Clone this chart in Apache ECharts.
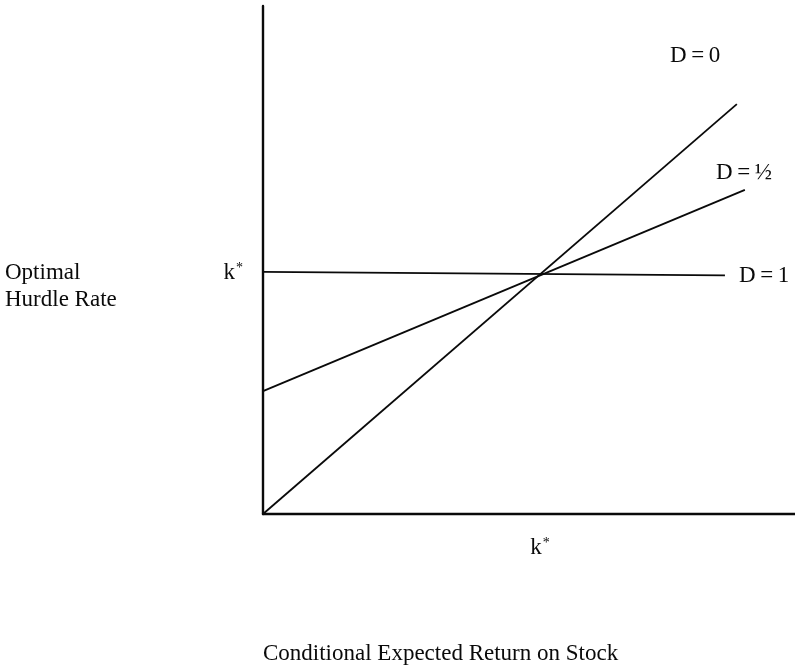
<!DOCTYPE html>
<html>
<head>
<meta charset="utf-8">
<script src="https://cdn.jsdelivr.net/npm/echarts@6/dist/echarts.min.js"></script>
<style>
html,body{margin:0;padding:0;background:#fff;}
#c{width:795px;height:669px;}
</style>
</head>
<body>
<div id="c"></div>
<script>
// Data (x: conditional expected return, y: optimal hurdle rate; k* = 1)
const seriesNames = ['D\u2009=\u20090', 'D\u2009=\u2009\u00BD', 'D\u2009=\u20091'];
const lineD0 = [[0, 0], [1.711, 1.701]];
const lineDHalf = [[0, 0.51], [1.74, 1.345]];
const lineD1 = [[0, 1.005], [1.668, 0.99]];
const kStarValue = 1;
const xMax = 1.921;
const yMax = 2.108;

const FONT = "'Liberation Serif','Times New Roman',serif";
const INK = '#0a0a0a';

const chart = echarts.init(document.getElementById('c'), null, {renderer: 'canvas'});

function kLabel(v) {
  return Math.abs(v - kStarValue) < 1e-9 ? '{k|k}{s|*}' : '';
}
const rich = {
  k: {fontSize: 23, fontFamily: FONT, color: INK},
  s: {fontSize: 14, fontFamily: FONT, color: INK, verticalAlign: 'top', padding: [0, 0, 0, 1]}
};

function seriesOf(name, data) {
  return {
    name: name, type: 'line', data: data, symbol: 'none', silent: true,
    lineStyle: {color: INK, width: 1.8}, animation: false
  };
}

chart.setOption({
  backgroundColor: '#fff',
  animation: false,
  grid: {left: 263, right: 0, top: 6, bottom: 155, containLabel: false},
  xAxis: {
    type: 'value', min: 0, max: xMax, interval: 1,
    axisLine: {show: true, onZero: false, lineStyle: {color: INK, width: 2.4}},
    axisTick: {show: false}, splitLine: {show: false},
    axisLabel: {margin: 22, formatter: kLabel, rich: rich, showMaxLabel: false}
  },
  yAxis: {
    type: 'value', min: 0, max: yMax, interval: 1,
    axisLine: {show: true, onZero: false, lineStyle: {color: INK, width: 2.4}},
    axisTick: {show: false}, splitLine: {show: false},
    axisLabel: {margin: 20, formatter: kLabel, rich: rich, showMaxLabel: false}
  },
  series: [
    seriesOf(seriesNames[0], lineD0),
    seriesOf(seriesNames[1], lineDHalf),
    seriesOf(seriesNames[2], lineD1)
  ],
  graphic: [
    {type: 'text', left: 670, top: 44, style: {text: seriesNames[0], font: '23px ' + FONT, fill: INK}},
    {type: 'text', left: 716, top: 161, style: {text: seriesNames[1], font: '23px ' + FONT, fill: INK}},
    {type: 'text', left: 739, top: 264, style: {text: seriesNames[2], font: '23px ' + FONT, fill: INK}},
    {type: 'text', left: 5, top: 259, style: {text: 'Optimal\nHurdle Rate', font: '23px ' + FONT, fill: INK, lineHeight: 27}},
    {type: 'text', left: 263, top: 642, style: {text: 'Conditional Expected Return on Stock', font: '23px ' + FONT, fill: INK}}
  ]
});
</script>
</body>
</html>
